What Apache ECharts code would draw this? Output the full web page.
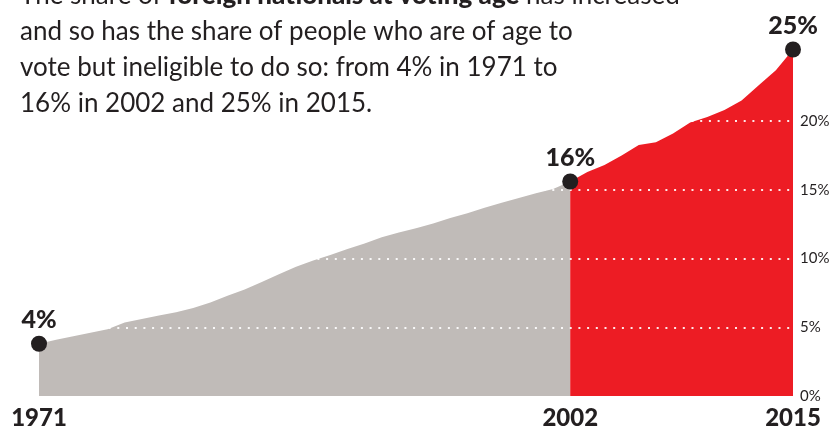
<!DOCTYPE html>
<html><head><meta charset="utf-8">
<script src="https://cdn.jsdelivr.net/npm/echarts@6/dist/echarts.min.js"></script>
<style>html,body{margin:0;padding:0;background:#fff}#c{width:833px;height:435px}</style>
</head><body><div id="c"></div>
<script>
// Data (share of foreign nationals at voting age, %)
const grayYears = [1971,1972,1973,1974,1975,1976,1977,1978,1979,1980,1981,1982,1983,1984,1985,1986,1987,1988,1989,1990,1991,1992,1993,1994,1995,1996,1997,1998,1999,2000,2001,2002];
const grayValues = [3.8,4.1,4.35,4.6,4.85,5.35,5.6,5.85,6.1,6.4,6.8,7.3,7.75,8.3,8.85,9.4,9.85,10.25,10.7,11.1,11.55,11.9,12.2,12.55,12.95,13.3,13.7,14.05,14.4,14.75,15.05,15.6];
const redYears = [2002,2003,2004,2005,2006,2007,2008,2009,2010,2011,2012,2013,2014,2015];
const redValues = [15.6,16.3,16.8,17.5,18.25,18.45,19.1,19.9,20.3,20.8,21.5,22.6,23.7,25.2];
const xTicks = [1971, 2002, 2015];
const yTicks = [0, 5, 10, 15, 20];
const gridValues = [5, 10, 15, 20];
const highlightYears = [1971, 2002, 2015];

const lookup = y => {
  const gi = grayYears.indexOf(y);
  if (y <= 2002 && gi >= 0) return grayValues[gi];
  return redValues[redYears.indexOf(y)];
};

const ink = '#231f20';
const chart = echarts.init(document.getElementById('c'), null, {renderer: 'canvas'});
chart.setOption({
  animation: false,
  backgroundColor: '#fff',
  title: {
    left: 20, top: -22, padding: 0,
    text: 'The share of {b|foreign nationals at voting age} has increased\nand so has the share of people who are of age to\nvote but ineligible to do so: from 4% in 1971 to\n16% in 2002 and 25% in 2015.',
    textStyle: {
      fontFamily: 'Lato', fontSize: 26, fontWeight: 400, color: ink, lineHeight: 36,
      rich: { b: { fontFamily: 'Lato', fontSize: 26, fontWeight: 900, color: ink, lineHeight: 36 } }
    }
  },
  grid: { left: 39, right: 40, top: 38.5, bottom: 39, containLabel: false },
  xAxis: {
    type: 'value', min: 1971, max: 2015,
    splitLine: { show: false }, axisTick: { show: false }, axisLine: { show: false },
    axisLabel: {
      customValues: xTicks, margin: 10,
      fontFamily: 'Lato', fontWeight: 900, fontSize: 24, color: ink,
      formatter: v => String(v)
    }
  },
  yAxis: {
    type: 'value', position: 'right', min: 0, max: 26,
    splitLine: { show: false }, axisTick: { show: false }, axisLine: { show: false },
    axisLabel: {
      customValues: yTicks, margin: 7, padding: [0, 0, 10, 0],
      fontFamily: 'Lato', fontWeight: 400, fontSize: 15, color: ink,
      formatter: v => v + '%'
    }
  },
  series: [
    {
      type: 'line', z: 2, symbol: 'none',
      data: grayYears.map((y, i) => [y, grayValues[i]]),
      lineStyle: { width: 0 },
      areaStyle: { color: '#c0bbb8', opacity: 1 }
    },
    {
      type: 'line', z: 3, symbol: 'none',
      data: redYears.map((y, i) => [y, redValues[i]]),
      lineStyle: { width: 0 },
      areaStyle: { color: '#ed1c24', opacity: 1 },
      markLine: {
        silent: true, symbol: 'none', label: { show: false },
        lineStyle: { color: '#ffffff', width: 2, type: [2, 6.7], opacity: 0.9 },
        data: gridValues.map(v => ({ yAxis: v }))
      }
    },
    {
      type: 'scatter', z: 5, symbolSize: 16,
      itemStyle: { color: ink, opacity: 1 },
      data: highlightYears.map(y => [y, lookup(y)]),
      label: {
        show: true, position: 'top', distance: 3,
        fontFamily: 'Lato', fontWeight: 900, fontSize: 25, color: ink,
        formatter: p => Math.round(p.value[1]) + '%'
      }
    }
  ]
});
</script></body></html>
